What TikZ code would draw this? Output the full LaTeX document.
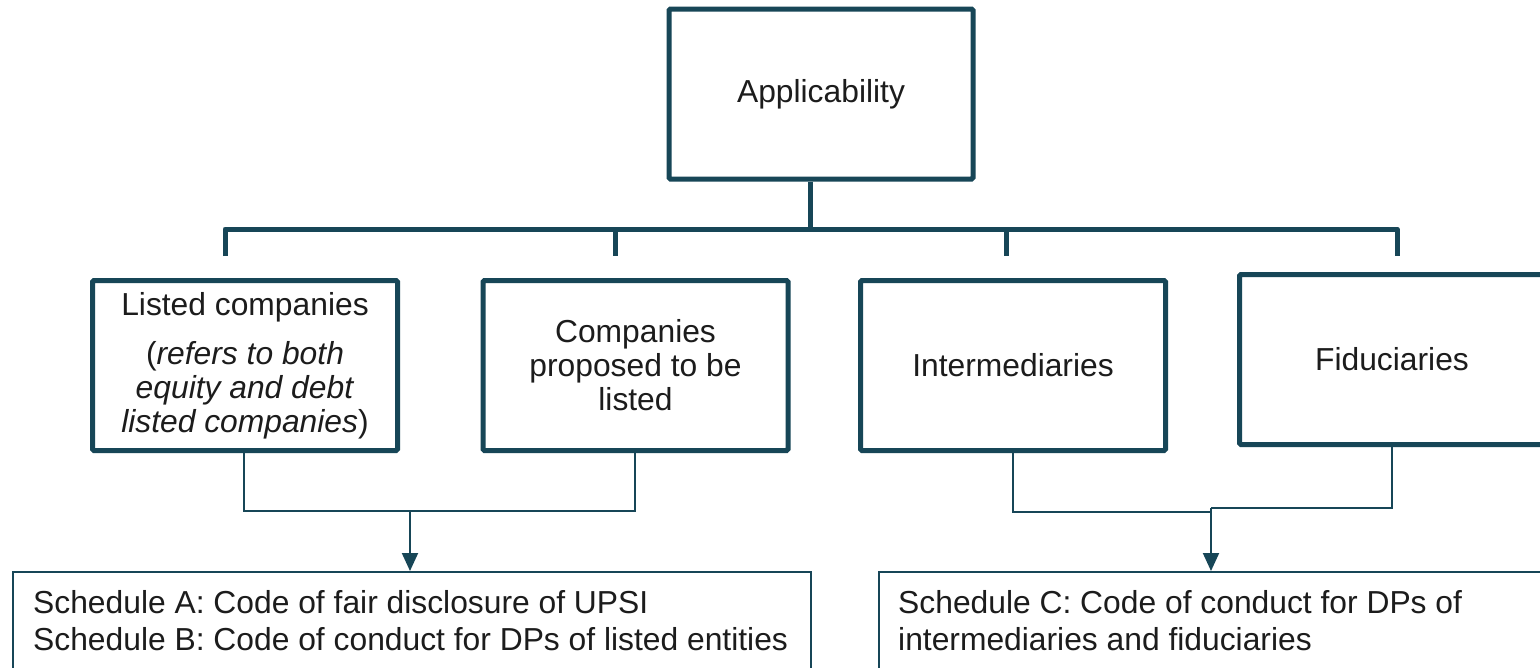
\documentclass[tikz,border=0pt]{standalone}
\usepackage{fontspec}
\setmainfont{Liberation Sans}
\usetikzlibrary{arrows.meta}
\definecolor{teal1}{RGB}{23,70,87}
\definecolor{ink}{RGB}{28,28,28}
\begin{document}
\begin{tikzpicture}[x=1pt,y=-1pt,
  thickbox/.style={draw=teal1, line width=5pt, rounded corners=1.5pt, fill=white,
    minimum width=305pt, minimum height=170pt, inner sep=4pt, align=center,
    text=ink, font=\fontsize{31.8}{34}\selectfont},
  busline/.style={draw=teal1, line width=5pt, line join=round},
  thinline/.style={draw=teal1, line width=2pt},
  arrowline/.style={draw=teal1, line width=2pt, -{Triangle[length=18pt,width=16pt]}},
  schedbox/.style={draw=teal1, line width=2pt, anchor=north west, minimum height=130pt},
  schedtext/.style={anchor=north west, align=left, inner sep=0pt, text=ink,
    font=\fontsize{31.8}{37}\selectfont}
]
\clip (0,0) rectangle (1540,667);
\fill[white] (0,0) rectangle (1540,667);

% top box
\node[thickbox, minimum width=304pt] (app) at (821,94) {Applicability};

% second row
\node[thickbox] (n1) at (245,365.5) {Listed companies\\[15pt]
  (\textit{refers to both}\\ \textit{equity and debt}\\ \textit{listed companies})};
\node[thickbox] (n2) at (635.5,365.5) {Companies\\ proposed to be\\ listed};
\node[thickbox] (n3) at (1013,365.5) {Intermediaries};
\node[thickbox] (n4) at (1392,359.5) {Fiduciaries};

% bus
\coordinate (stem) at (810,229);
\coordinate (b1) at (225,229);
\coordinate (b2) at (615,229);
\coordinate (b3) at (1006,229);
\coordinate (b4) at (1397,229);
\coordinate (d1) at (225,256);
\coordinate (d2) at (615,256);
\coordinate (d3) at (1006,256);
\coordinate (d4) at (1397,256);
\draw[busline] (app.south -| stem) -- (stem);
\draw[busline] (d1) -- (b1) -- (b4) -- (d4);
\draw[busline] (b2) -- (d2);
\draw[busline] (b3) -- (d3);

% bottom boxes
\node[schedbox, minimum width=798pt] (sa) at (12,571) {};
\node[schedtext] (satext) at (33,590) {Schedule A: Code of fair disclosure of UPSI\\
  Schedule B: Code of conduct for DPs of listed entities};
\node[schedbox, minimum width=700pt] (sc) at (878,571) {};
\node[schedtext] (sctext) at (898,590) {Schedule C: Code of conduct for DPs of\\
  intermediaries and fiduciaries};

% left connectors
\coordinate (j1) at (244,511);
\coordinate (j2) at (635,511);
\coordinate (m1) at (410,511);
\draw[thinline] (n1.south -| j1) -- (j1) -- (j2) -- (n2.south -| j2);
\draw[arrowline] (m1) -- (sa.north -| m1);

% right connectors
\coordinate (k1) at (1013,512);
\coordinate (k2) at (1211,512);
\coordinate (k3) at (1392,508);
\coordinate (k4) at (1211,508);
\draw[thinline] (n3.south -| k1) -- (k1) -- (k2);
\draw[thinline] (n4.south -| k3) -- (k3) -- (k4);
\draw[arrowline] (k4) -- (sc.north -| k4);
\end{tikzpicture}
\end{document}
